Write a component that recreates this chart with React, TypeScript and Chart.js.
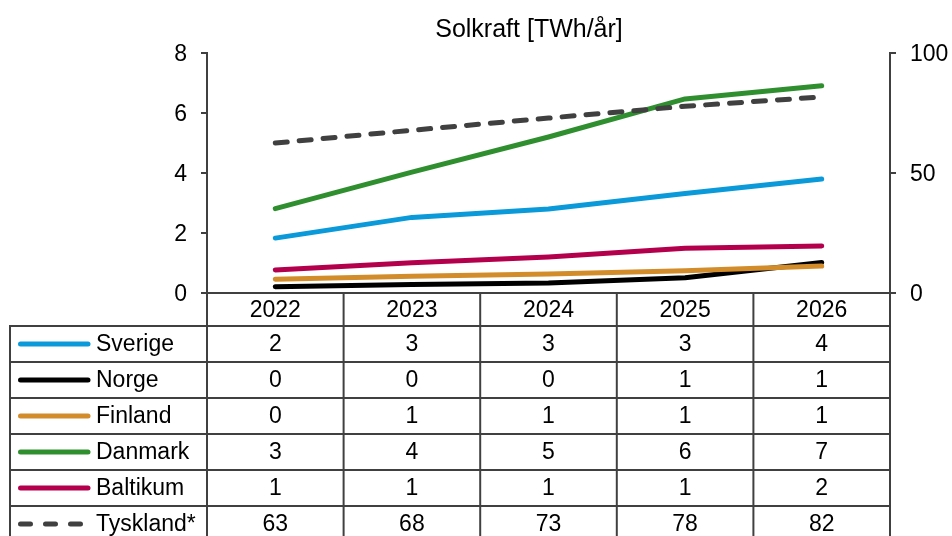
import React, { useEffect, useRef } from 'react';
import { Chart, registerables } from 'chart.js';

Chart.register(...registerables);

const FONT = '"Liberation Sans", Arial, sans-serif';

const years = ['2022', '2023', '2024', '2025', '2026'];
const sverige = [1.83, 2.52, 2.8, 3.32, 3.8];
const norge = [0.21, 0.28, 0.33, 0.51, 1.02];
const finland = [0.46, 0.56, 0.63, 0.74, 0.9];
const danmark = [2.81, 4.03, 5.2, 6.47, 6.91];
const baltikum = [0.77, 1.01, 1.2, 1.49, 1.57];
const tyskland = [62.5, 67.8, 72.9, 77.8, 81.7];

const seriesNames = ['Sverige', 'Norge', 'Finland', 'Danmark', 'Baltikum', 'Tyskland*'];
const seriesData = [sverige, norge, finland, danmark, baltikum, tyskland];
const seriesColors = ['#0a9ad9', '#000000', '#d28c2a', '#2f8f2f', '#b4004c', '#404040'];
const seriesDashed = [false, false, false, false, false, true];
const seriesAxis = ['y', 'y', 'y', 'y', 'y', 'y2'];

const leftTicks = [0, 2, 4, 6, 8];
const rightTicks = [0, 50, 100];
const titleText = 'Solkraft [TWh/år]';

const tablePlugin = {
  id: 'dataTable',
  afterDraw(chart: any) {
    const ctx = chart.ctx;
    const xs = chart.scales.x;
    const top = xs.top;
    const headerH = 33;
    const rowH = 36;
    const tableLeft = 10;
    const bottom = chart.height + 10;
    ctx.save();
    // title
    ctx.fillStyle = '#000';
    ctx.font = `25px ${FONT}`;
    ctx.textAlign = 'center';
    ctx.textBaseline = 'middle';
    ctx.fillText(titleText, 529, 30);

    ctx.strokeStyle = '#404040';
    ctx.lineWidth = 2;
    ctx.lineCap = 'butt';
    // vertical lines
    for (let i = 0; i <= years.length; i++) {
      const x = xs.getPixelForValue(i - 0.5);
      ctx.beginPath();
      ctx.moveTo(x, top);
      ctx.lineTo(x, bottom);
      ctx.stroke();
    }
    ctx.beginPath();
    ctx.moveTo(tableLeft, top + headerH);
    ctx.lineTo(tableLeft, bottom);
    ctx.stroke();
    // horizontal lines
    for (let k = 0; k <= seriesNames.length; k++) {
      const y = top + headerH + k * rowH;
      ctx.beginPath();
      ctx.moveTo(tableLeft - 1, y);
      ctx.lineTo(xs.right + 1, y);
      ctx.stroke();
    }
    // rows
    ctx.font = `23px ${FONT}`;
    ctx.textBaseline = 'middle';
    for (let r = 0; r < seriesNames.length; r++) {
      const cy = top + headerH + r * rowH + rowH / 2;
      ctx.save();
      ctx.strokeStyle = seriesColors[r];
      ctx.lineWidth = 5;
      ctx.lineCap = 'round';
      if (seriesDashed[r]) ctx.setLineDash([10, 15]);
      ctx.beginPath();
      ctx.moveTo(20.5, cy);
      ctx.lineTo(88, cy);
      ctx.stroke();
      ctx.restore();
      ctx.fillStyle = '#000';
      ctx.textAlign = 'left';
      ctx.fillText(seriesNames[r], 96, cy + 1);
      ctx.textAlign = 'center';
      for (let i = 0; i < years.length; i++) {
        const x = xs.getPixelForValue(i);
        ctx.fillText(String(Math.round(seriesData[r][i])), x, cy + 1);
      }
    }
    ctx.restore();
  },
};

export default function App() {
  const ref = useRef<HTMLCanvasElement>(null);
  useEffect(() => {
    document.body.style.margin = '0';
    Chart.defaults.font.family = FONT;
    const datasets = seriesNames.map((name, i) => ({
      label: name,
      data: seriesData[i],
      borderColor: seriesColors[i],
      backgroundColor: seriesColors[i],
      borderWidth: 5,
      borderDash: seriesDashed[i] ? [12, 12] : [],
      borderCapStyle: 'round' as const,
      borderJoinStyle: 'round' as const,
      pointRadius: 0,
      tension: 0,
      yAxisID: seriesAxis[i],
      order: seriesNames.length - i,
    }));
    const chart = new Chart(ref.current!, {
      type: 'line',
      data: { labels: years, datasets },
      options: {
        animation: false,
        responsive: false,
        devicePixelRatio: 1,
        layout: { padding: { top: 53, left: 0, right: 0, bottom: 0 } },
        plugins: {
          legend: { display: false },
          title: { display: false },
          tooltip: { enabled: false },
        },
        scales: {
          x: {
            offset: true,
            grid: { display: false },
            border: { display: true, color: '#404040', width: 2 },
            ticks: { color: '#000', font: { size: 23, family: FONT }, padding: -4, maxRotation: 0 },
            afterFit: (s: any) => { s.height = 243; },
          },
          y: {
            position: 'left',
            min: 0,
            max: 8,
            afterBuildTicks: (s: any) => { s.ticks = leftTicks.map((v) => ({ value: v })); },
            grid: { drawOnChartArea: false, drawTicks: true, tickLength: 6, color: '#404040', lineWidth: 2 },
            border: { display: true, color: '#404040', width: 2 },
            ticks: { color: '#000', font: { size: 23, family: FONT }, padding: 14, labelOffset: 2 },
            afterFit: (s: any) => { s.width = 207; },
          },
          y2: {
            position: 'right',
            min: 0,
            max: 100,
            afterBuildTicks: (s: any) => { s.ticks = rightTicks.map((v) => ({ value: v })); },
            grid: { drawOnChartArea: false, drawTicks: true, tickLength: 6, color: '#404040', lineWidth: 2 },
            border: { display: true, color: '#404040', width: 2 },
            ticks: { color: '#000', font: { size: 23, family: FONT }, padding: 14, labelOffset: 2 },
            afterFit: (s: any) => { s.width = 62; },
          },
        },
      },
      plugins: [tablePlugin],
    });
    return () => chart.destroy();
  }, []);
  return (
    <div style={{ position: 'absolute', left: 0, top: 0, width: 952, height: 536, background: '#fff' }}>
      <canvas ref={ref} width={952} height={536} />
    </div>
  );
}
